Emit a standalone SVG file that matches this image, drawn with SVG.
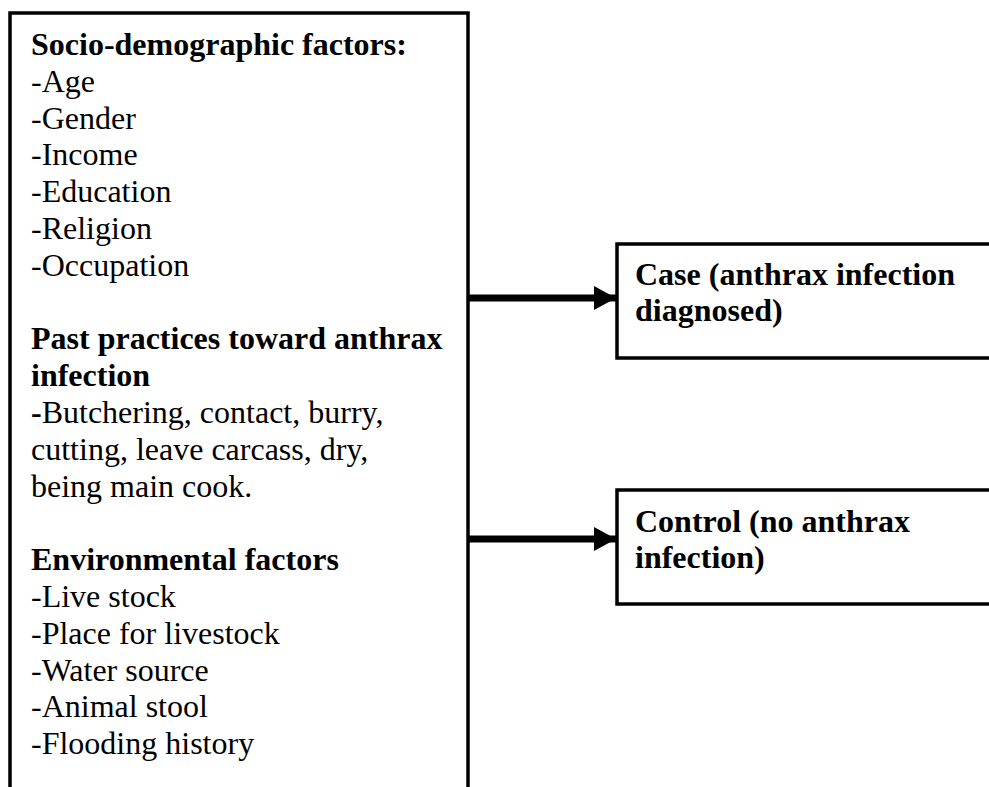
<svg xmlns="http://www.w3.org/2000/svg" width="989" height="787" viewBox="0 0 989 787">
<style>
.box{fill:#fff;stroke:#000;stroke-width:3.5}
.t{font-family:"Liberation Serif","Times New Roman",serif;font-size:32px;fill:#000}
.b{font-weight:bold}
.conn{stroke:#000;stroke-width:7;fill:none}
</style>
<defs>
<marker id="ah" markerUnits="userSpaceOnUse" markerWidth="24" markerHeight="26" refX="22" refY="12" orient="auto">
<path d="M0,0 L22,12 L0,24 Z" fill="#000"/>
</marker>
</defs>
<rect width="989" height="787" fill="#fff"/>
<g id="factors">
<rect class="box" x="10" y="13" width="458" height="800"/>
<text class="t" x="31">
<tspan class="b" x="31" y="55">Socio-demographic factors:</tspan>
<tspan x="31" y="91.8">-Age</tspan>
<tspan x="31" y="128.6">-Gender</tspan>
<tspan x="31" y="165.4">-Income</tspan>
<tspan x="31" y="202.2">-Education</tspan>
<tspan x="31" y="239">-Religion</tspan>
<tspan x="31" y="275.8">-Occupation</tspan>
<tspan class="b" x="31" y="349.4">Past practices toward anthrax</tspan>
<tspan class="b" x="31" y="386.2">infection</tspan>
<tspan x="31" y="423"><tspan class="b">-</tspan>Butchering, contact, burry,</tspan>
<tspan x="31" y="459.8">cutting, leave carcass, dry,</tspan>
<tspan x="31" y="496.6">being main cook.</tspan>
<tspan class="b" x="31" y="570.2">Environmental factors</tspan>
<tspan x="31" y="607">-Live stock</tspan>
<tspan x="31" y="643.8">-Place for livestock</tspan>
<tspan x="31" y="680.6">-Water source</tspan>
<tspan x="31" y="717.4">-Animal stool</tspan>
<tspan x="31" y="754.2">-Flooding history</tspan>
</text>
</g>
<g id="case">
<rect class="box" x="617" y="244" width="400" height="114"/>
<text class="t b"><tspan x="635" y="285">Case (anthrax infection</tspan><tspan x="635" y="321">diagnosed)</tspan></text>
</g>
<g id="control">
<rect class="box" x="617" y="490" width="400" height="114"/>
<text class="t b"><tspan x="635" y="532">Control (no anthrax</tspan><tspan x="635" y="568">infection)</tspan></text>
</g>
<g id="connectors">
<line class="conn" x1="468" y1="298" x2="616" y2="298" marker-end="url(#ah)"/>
<line class="conn" x1="468" y1="539" x2="616" y2="539" marker-end="url(#ah)"/>
</g>
</svg>
